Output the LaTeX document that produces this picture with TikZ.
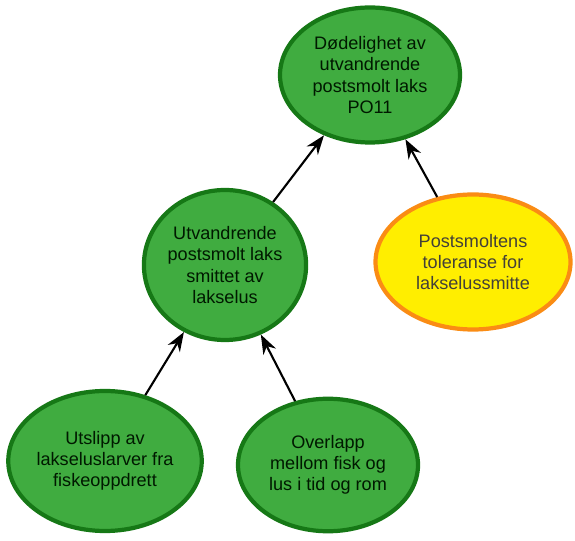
\documentclass[tikz,border=0pt]{standalone}
\usepackage{fontspec}
\setmainfont{Liberation Sans}
\usetikzlibrary{shapes.geometric,arrows.meta}
\definecolor{leafgreen}{RGB}{64,172,64}
\definecolor{leafedge}{RGB}{22,120,22}
\definecolor{sunyellow}{RGB}{255,238,0}
\definecolor{sunedge}{RGB}{250,140,20}
\begin{document}
\begin{tikzpicture}[
  factor/.style={ellipse,draw=leafedge,fill=leafgreen,line width=2.4pt,align=center,
    inner sep=0pt,font=\fontsize{10.3}{12}\selectfont,text=black!90!green},
  modifier/.style={factor,draw=sunedge,fill=sunyellow,text=black!85!yellow},
  link/.style={-{Stealth[length=11pt,width=8pt]},line width=1.2pt}]
\useasboundingbox (0,0) rectangle (11.5,10.8);
\node[factor,minimum width=3.6cm,minimum height=2.7cm] (mortality) at (7.4,9.3)
  {Dødelighet av\\utvandrende\\postsmolt laks\\PO11};
\node[factor,minimum width=3.2cm,minimum height=3.0cm] (infected) at (4.5,5.5)
  {Utvandrende\\postsmolt laks\\smittet av\\lakselus};
\node[modifier,minimum width=3.9cm,minimum height=2.7cm] (tolerance) at (9.46,5.56)
  {Postsmoltens\\toleranse for\\lakselussmitte};
\node[factor,minimum width=3.8cm,minimum height=2.8cm] (release) at (2.1,1.58)
  {Utslipp av\\lakseluslarver fra\\fiskeoppdrett};
\node[factor,minimum width=3.6cm,minimum height=2.65cm] (overlap) at (6.56,1.5)
  {Overlapp\\mellom fisk og\\lus i tid og rom};
\draw[link] (infected) -- (mortality);
\draw[link] (tolerance) -- (mortality);
\draw[link] (release) -- (infected);
\draw[link] (overlap) -- (infected);
\end{tikzpicture}
\end{document}
